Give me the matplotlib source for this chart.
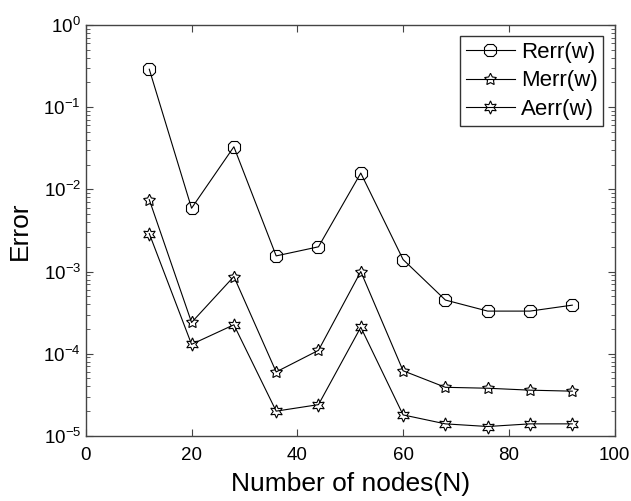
import numpy as np
import matplotlib
matplotlib.use('Agg')
import matplotlib.pyplot as plt

plt.rcParams['font.family'] = ['Liberation Sans', 'DejaVu Sans']
plt.rcParams['mathtext.fontset'] = 'custom'
plt.rcParams['mathtext.rm'] = 'Liberation Sans'

nodes = [12, 20, 28, 36, 44, 52, 60, 68, 76, 84, 92]
rerr = [0.29, 0.0059, 0.033, 0.00155, 0.002, 0.0158, 0.0014, 0.00045, 0.00033, 0.00033, 0.00039]
merr = [0.0075, 0.00024, 0.00087, 6.0e-5, 1.1e-4, 1.0e-3, 6.2e-5, 3.9e-5, 3.8e-5, 3.6e-5, 3.5e-5]
aerr = [0.0029, 1.3e-4, 2.25e-4, 2.0e-5, 2.4e-5, 2.1e-4, 1.8e-5, 1.4e-5, 1.3e-5, 1.4e-5, 1.4e-5]
labels = ['Rerr(w)', 'Merr(w)', 'Aerr(w)']

fig = plt.figure(figsize=(6.31, 5.01), dpi=100)
ax = fig.add_axes([0.136, 0.130, 0.838, 0.820])

ax.plot(nodes, rerr, 'k-', marker='8', markersize=10, markerfacecolor='none',
        markeredgewidth=0.8, linewidth=0.8, label=labels[0])
ax.plot(nodes, merr, 'k-', marker=(5, 1, 0), markersize=9, markerfacecolor='none',
        markeredgewidth=0.8, linewidth=0.8, label=labels[1])
ax.plot(nodes, aerr, 'k-', marker=(6, 1, 0), markersize=9.5, markerfacecolor='none',
        markeredgewidth=0.8, linewidth=0.8, label=labels[2])

ax.set_yscale('log')
ax.set_xlim(0, 100)
ax.set_ylim(1e-5, 1)
ax.set_xticks([0, 20, 40, 60, 80, 100])
ax.tick_params(which='both', direction='in', top=True, right=True, labelsize=13.5,
               color='#444444')
ax.tick_params(which='major', length=5)
ax.tick_params(which='minor', length=3)
ax.tick_params(axis='x', pad=8)
for s in ax.spines.values():
    s.set_color('#444444')
    s.set_linewidth(1.0)

ax.set_xlabel('Number of nodes(N)', fontsize=19, labelpad=6)
ax.set_ylabel('Error', fontsize=19, labelpad=8)

leg = ax.legend(loc='upper right', fontsize=16, fancybox=False, framealpha=1,
                edgecolor='#333333', handlelength=2.2, borderpad=0.25,
                labelspacing=0.35, handletextpad=0.3, borderaxespad=0.5)
leg.get_frame().set_linewidth(1.0)

plt.savefig('out.png', dpi=100)
